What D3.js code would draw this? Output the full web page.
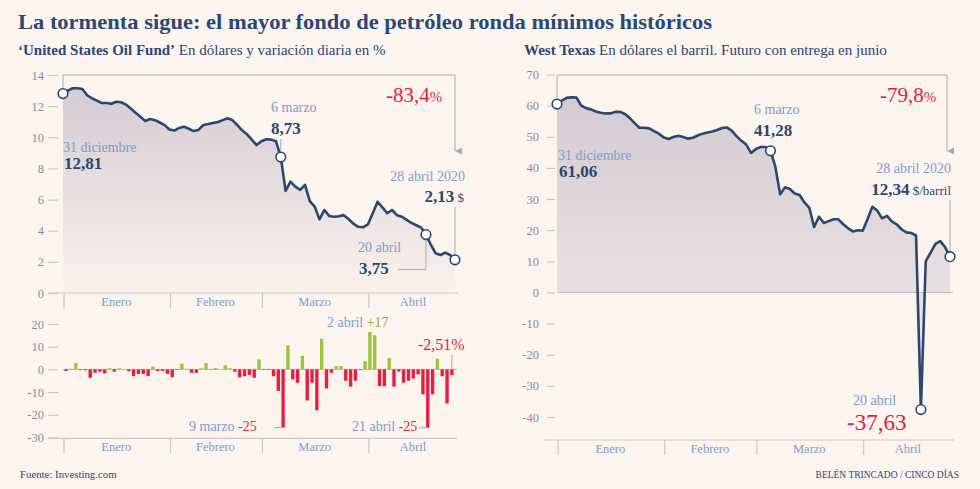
<!DOCTYPE html>
<html><head><meta charset="utf-8">
<script src="https://cdn.jsdelivr.net/npm/d3@7"></script>
<style>
body{margin:0;background:#fcf4ee;}
svg{display:block}
text{font-family:"Liberation Serif","DejaVu Serif",serif}
</style></head><body>
<svg id="c" width="980" height="489"></svg>
<script>
// ---------- DATA ----------
const dates = ["2019-12-31",
 "2020-01-02","2020-01-03","2020-01-06","2020-01-07","2020-01-08","2020-01-09","2020-01-10","2020-01-13","2020-01-14","2020-01-15","2020-01-16","2020-01-17","2020-01-21","2020-01-22","2020-01-23","2020-01-24","2020-01-27","2020-01-28","2020-01-29","2020-01-30","2020-01-31",
 "2020-02-03","2020-02-04","2020-02-05","2020-02-06","2020-02-07","2020-02-10","2020-02-11","2020-02-12","2020-02-13","2020-02-14","2020-02-18","2020-02-19","2020-02-20","2020-02-21","2020-02-24","2020-02-25","2020-02-26","2020-02-27","2020-02-28",
 "2020-03-02","2020-03-03","2020-03-04","2020-03-05","2020-03-06","2020-03-09","2020-03-10","2020-03-11","2020-03-12","2020-03-13","2020-03-16","2020-03-17","2020-03-18","2020-03-19","2020-03-20","2020-03-23","2020-03-24","2020-03-25","2020-03-26","2020-03-27","2020-03-30","2020-03-31",
 "2020-04-01","2020-04-02","2020-04-03","2020-04-06","2020-04-07","2020-04-08","2020-04-09","2020-04-13","2020-04-14","2020-04-15","2020-04-16","2020-04-17","2020-04-20","2020-04-21","2020-04-22","2020-04-23","2020-04-24","2020-04-27","2020-04-28"];

// United States Oil Fund, close in $
const usoPrice = [12.81,13.0,13.15,13.15,13.1,12.7,12.5,12.35,12.2,12.2,
 12.15,12.28,12.25,12.1,11.85,11.58,11.32,11.05,11.17,11.1,
 10.95,10.78,10.5,10.43,10.6,10.68,10.55,10.4,10.47,10.79,
 10.85,10.92,10.98,11.1,11.22,11.1,10.79,10.45,10.2,9.85,
 9.5,9.75,9.87,9.85,9.75,8.73,6.55,7.15,6.83,6.62,
 6.94,5.9,5.55,4.73,5.33,4.95,4.9,4.93,5.0,4.75,
 4.45,4.25,4.22,4.4,5.12,5.86,5.5,5.12,5.33,5.0,
 4.9,4.7,4.5,4.35,4.2,3.75,3.1,2.55,2.44,2.59,
 2.44,2.13];

// daily change in % (from 2 Jan)
const usoChange = [-0.7,0.3,2.8,-0.3,-0.4,-3.7,-1.5,-1.0,-1.8,0.5,
 -1.0,0.5,0.2,-0.8,-3.0,-2.0,-2.0,-3.0,1.3,-0.8,
 -0.7,-2.0,-3.5,-0.2,2.5,0.2,-1.5,-1.5,0.5,2.8,
 0.2,0.6,0.1,1.8,0.5,-1.0,-3.5,-3.0,-2.5,-3.7,
 4.4,-0.3,-0.3,-3.0,-9.5,-25.6,10.6,-4.4,-5.9,6.0,
 -13.7,-5.9,-18.0,13.5,-8.4,-1.5,1.5,1.5,-5.0,-7.6,
 -5.0,-0.3,3.7,16.5,15.0,-7.4,-7.4,5.1,-7.6,-1.0,
 -5.9,-5.0,-4.0,-2.2,-11.0,-25.7,-11.0,4.7,-3.0,-15.0,
 -2.51];

// West Texas, $ per barrel
const wtiPrice = [60.5,61.6,62.5,62.7,62.6,60.0,59.2,58.8,58.1,57.7,
 57.5,57.5,58.0,58.0,57.3,56.0,54.4,52.9,52.9,52.7,
 51.8,51.0,49.8,49.3,49.9,50.3,49.9,49.4,49.7,50.4,
 51.0,51.4,51.7,52.2,52.8,53.0,52.0,50.2,48.7,47.5,
 44.8,46.1,46.7,46.7,45.5,40.4,31.5,33.8,33.2,31.8,
 31.3,28.9,27.2,21.0,24.3,22.3,22.9,23.5,23.5,21.9,
 20.6,19.6,20.0,19.8,23.5,27.5,26.3,23.8,24.6,22.8,
 21.9,20.3,19.3,19.1,18.3,-37.63,10.0,12.8,15.6,16.5,
 14.5,11.5];

const months = ["Enero","Febrero","Marzo","Abril"];
const monthKeys = ["01","02","03","04"];
const usoTicks = [0,2,4,6,8,10,12,14];
const chgTicks = [20,10,0,-10,-20,-30];
const wtiTicks = [70,60,50,40,30,20,10,0,-10,-20,-30,-40];

// ---------- STYLE ----------
const C = {navy:"#2b4670", title:"#2a4877", blue:"#7f9bcb", axis:"#8d899a",
  rule:"#cdc6c9", red:"#e3203f", green:"#9cc43b", green2:"#8ea92a", bracket:"#aaa5b1"};

const svg = d3.select("#c");
svg.append("rect").attr("width",980).attr("height",489).attr("fill","#fcf4ee");
const defs = svg.append("defs");
function grad(id,y1,y2,c1,c2){
  const g = defs.append("linearGradient").attr("id",id).attr("gradientUnits","userSpaceOnUse")
    .attr("x1",0).attr("x2",0).attr("y1",y1).attr("y2",y2);
  g.append("stop").attr("offset",0).attr("stop-color",c1);
  g.append("stop").attr("offset",1).attr("stop-color",c2);
}
defs.append("marker").attr("id","arr").attr("viewBox","0 0 10 10").attr("refX",5).attr("refY",10)
  .attr("markerWidth",7).attr("markerHeight",7).attr("orient","auto-start-reverse")
  .append("path").attr("d","M0,0L5,10L10,0Z").attr("fill",C.bracket);

function txt(g,x,y,parts,anchor){
  const t = g.append("text").attr("x",x).attr("y",y).attr("text-anchor",anchor||"start");
  parts.forEach(p=>{
    t.append("tspan").text(p[0]).attr("font-size",p[1]).attr("fill",p[2])
      .attr("font-weight",p[3]||"normal");
  });
  return t;
}

// ---------- TITLE ----------
svg.append("text").attr("x",18).attr("y",29).text("La tormenta sigue: el mayor fondo de petróleo ronda mínimos históricos")
  .attr("font-size",22).attr("font-weight","bold").attr("fill",C.title)
  .attr("textLength",694).attr("lengthAdjust","spacingAndGlyphs");
txt(svg,18,55,[["‘United States Oil Fund’",15,C.title,"bold"],[" En dólares y variación diaria en %",15,C.navy]]);
txt(svg,524,55,[["West Texas",15,C.title,"bold"],[" En dólares el barril. Futuro con entrega en junio",15,C.navy]]);

// ---------- helpers ----------
function monthBounds(x){
  return monthKeys.map((m,k)=>{
    const i = k===0 ? 0 : dates.findIndex(d=>d.slice(5,7)===m);
    return x(dates[i]);
  });
}
function monthAxis(g,x,yLine,x0,x1,tickLen){
  g.append("line").attr("x1",x0).attr("x2",x1).attr("y1",yLine).attr("y2",yLine)
    .attr("stroke",C.rule).attr("stroke-width",1.2);
  const b = monthBounds(x); const end = x(dates[dates.length-1])+3;
  b.forEach((bx,k)=>{
    g.append("line").attr("x1",bx+1).attr("x2",bx+1).attr("y1",yLine).attr("y2",yLine+tickLen)
      .attr("stroke",C.rule).attr("stroke-width",1.2);
    const nx = k<3 ? b[k+1] : end;
    g.append("text").attr("x",(bx+nx)/2).attr("y",yLine+13).attr("text-anchor","middle")
      .attr("font-size",12.5).attr("fill",C.blue).text(months[k]);
  });
}
function yAxis(g,y,ticks,xPos,size,pad){
  const a = d3.axisLeft(y).tickValues(ticks).tickSize(size).tickPadding(pad).tickFormat(d=>d);
  const ax = g.append("g").attr("transform",`translate(${xPos},0)`).call(a);
  ax.select(".domain").remove();
  ax.selectAll("line").attr("stroke",C.rule).attr("stroke-width",1.2);
  ax.selectAll("text").attr("fill",C.axis).attr("font-size",12.5).attr("font-family","Liberation Serif");
}

// ---------- LEFT TOP: USO ----------
const gL = svg.append("g");
const xL = d3.scalePoint().domain(dates).range([63,455]);
const yL = d3.scaleLinear().domain([0,14]).range([293,75]);
grad("gL",75,293,"#d1c9d1","#fbf2ed");
const uso = dates.map((d,i)=>({d,v:usoPrice[i]}));
gL.append("path").datum(uso).attr("fill","url(#gL)")
  .attr("d",d3.area().x(p=>xL(p.d)).y0(yL(0)).y1(p=>yL(p.v)));
yAxis(gL,yL,usoTicks,58,10,4);
monthAxis(gL,xL,yL(0),48,458,15);
gL.append("path").datum(uso).attr("fill","none").attr("stroke",C.navy).attr("stroke-width",2.6)
  .attr("stroke-linejoin","round").attr("d",d3.line().x(p=>xL(p.d)).y(p=>yL(p.v)));

const uFirst=uso[0], uLast=uso[uso.length-1], uMar=uso[dates.indexOf("2020-03-06")], uApr=uso[dates.indexOf("2020-04-20")];
// bracket
gL.append("path").attr("fill","none").attr("stroke",C.bracket).attr("stroke-width",1)
  .attr("marker-end","url(#arr)")
  .attr("d",`M${xL(uFirst.d)},${yL(uFirst.v)-5}V75H${xL(uLast.d)}V151`);
txt(gL,386,101.5,[["-83,4",21,C.red],["%",15,C.red]]);
// leaders
gL.append("path").attr("fill","none").attr("stroke",C.bracket).attr("stroke-width",1)
  .attr("d",`M${xL(uMar.d)},139V${yL(uMar.v)-5}`);
gL.append("path").attr("fill","none").attr("stroke",C.bracket).attr("stroke-width",1)
  .attr("d",`M${xL(uLast.d)},207V${yL(uLast.v)-5}`);
gL.append("path").attr("fill","none").attr("stroke",C.bracket).attr("stroke-width",1)
  .attr("d",`M398,269.5H${xL(uApr.d)}V${yL(uApr.v)+5}`);
gL.selectAll("circle.k").data([uFirst,uMar,uApr,uLast]).join("circle")
  .attr("cx",p=>xL(p.d)).attr("cy",p=>yL(p.v)).attr("r",4.8)
  .attr("fill","#fff").attr("stroke",C.navy).attr("stroke-width",1.6);
txt(gL,63,151.5,[["31 diciembre",14,C.blue]]);
txt(gL,64,168.5,[["12,81",17,C.navy,"bold"]]);
txt(gL,271,111.5,[["6 marzo",14,C.blue]]);
txt(gL,271,133.5,[["8,73",17,C.navy,"bold"]]);
txt(gL,465,180.5,[["28 abril 2020",14,C.blue]],"end");
txt(gL,464,201.5,[["2,13",17,C.navy,"bold"],[" $",13,C.navy]],"end");
txt(gL,358,251.5,[["20 abril",14,C.blue]]);
txt(gL,359,273.5,[["3,75",17,C.navy,"bold"]]);

// ---------- LEFT BOTTOM: daily change ----------
const gB = svg.append("g");
const chg = dates.slice(1).map((d,i)=>({d,v:usoChange[i]}));
const xB = d3.scaleBand().domain(chg.map(p=>p.d)).range([63,455]).padding(0.3);
const yB = d3.scaleLinear().domain([-30,20]).range([437.5,324]);
yAxis(gB,yB,chgTicks,58,10,4);
gB.append("line").attr("x1",63).attr("x2",457).attr("y1",yB(0)).attr("y2",yB(0))
  .attr("stroke","#bdb5ba").attr("stroke-width",1);
gB.selectAll("rect").data(chg).join("rect")
  .attr("x",p=>xB(p.d)).attr("width",xB.bandwidth())
  .attr("y",p=>yB(Math.max(0,p.v))).attr("height",p=>Math.abs(yB(p.v)-yB(0)))
  .attr("fill",p=>p.v>=0?C.green:C.red);
monthAxis(gB,xL,yB(-30)+0.8,48,457,15);
const bM9 = chg.find(p=>p.d==="2020-03-09"), bA21 = chg.find(p=>p.d==="2020-04-21"), bLast = chg[chg.length-1];
gB.append("path").attr("stroke",C.bracket).attr("fill","none")
  .attr("d",`M274,${yB(bM9.v)}H${xB(bM9.d)}`);
gB.append("path").attr("stroke",C.bracket).attr("fill","none")
  .attr("d",`M419,${yB(bA21.v)}H${xB(bA21.d)}`);
gB.append("path").attr("stroke",C.bracket).attr("fill","none")
  .attr("d",`M${xB(bLast.d)+xB.bandwidth()/2},355V${yB(0)-1}`);
txt(gB,189,431,[["9 marzo",14,C.blue],["  -25",14,C.red]]);
txt(gB,352,431,[["21 abril",14,C.blue],["  -25",14,C.red]]);
txt(gB,327,326.5,[["2 abril",14,C.blue],["  +17",14,C.green2]]);
txt(gB,418,350,[["-2,51%",16,C.red]]);

// ---------- RIGHT: WTI ----------
const gR = svg.append("g");
const xR = d3.scalePoint().domain(dates).range([557,950]);
const yR = d3.scaleLinear().domain([-40,70]).range([417,74.5]);
grad("gR",75,440,"#d1c9d1","#f9f0eb");
const wti = dates.map((d,i)=>({d,v:wtiPrice[i]}));
gR.append("path").datum(wti).attr("fill","url(#gR)")
  .attr("d",d3.area().x(p=>xR(p.d)).y0(yR(0)).y1(p=>yR(p.v)));
yAxis(gR,yR,wtiTicks,555,8,8);
gR.append("line").attr("x1",558).attr("x2",953).attr("y1",yR(0)).attr("y2",yR(0))
  .attr("stroke","#bdb5ba").attr("stroke-width",1);
monthAxis(gR,xR,440,545,954,15);
gR.append("path").datum(wti).attr("fill","none").attr("stroke",C.navy).attr("stroke-width",2.6)
  .attr("stroke-linejoin","round").attr("d",d3.line().x(p=>xR(p.d)).y(p=>yR(p.v)));
const wFirst=wti[0], wLast=wti[wti.length-1], wMar=wti[44], wApr=wti[dates.indexOf("2020-04-20")];
gR.append("path").attr("fill","none").attr("stroke",C.bracket).attr("stroke-width",1)
  .attr("marker-end","url(#arr)")
  .attr("d",`M${xR(wFirst.d)},${yR(wFirst.v)-5}V75H${xR(wLast.d)-3}V151`);
txt(gR,880,102,[["-79,8",21,C.red],["%",15,C.red]]);
gR.append("path").attr("fill","none").attr("stroke",C.bracket).attr("stroke-width",1)
  .attr("d",`M${xR(wLast.d)},200V${yR(wLast.v)-5}`);
gR.selectAll("circle.k").data([wFirst,wMar,wApr,wLast]).join("circle")
  .attr("cx",p=>xR(p.d)).attr("cy",p=>yR(p.v)).attr("r",4.8)
  .attr("fill","#fff").attr("stroke",C.navy).attr("stroke-width",1.6);
txt(gR,558,160,[["31 diciembre",14,C.blue]]);
txt(gR,559,177,[["61,06",17,C.navy,"bold"]]);
txt(gR,754,114,[["6 marzo",14,C.blue]]);
txt(gR,754,136,[["41,28",17,C.navy,"bold"]]);
txt(gR,951,173,[["28 abril 2020",14,C.blue]],"end");
txt(gR,951,194.5,[["12,34",17,C.navy,"bold"],[" $/barril",13,C.navy]],"end");
txt(gR,853,405,[["20 abril",14,C.blue]]);
txt(gR,847,430,[["-37,63",23,C.red]]);

// ---------- FOOTER ----------
txt(svg,20,478,[["Fuente: Investing.com",10.8,C.navy]]);
txt(svg,959,478,[["BELÉN TRINCADO / CINCO DÍAS",9.5,C.navy]],"end");
</script>
</body></html>
